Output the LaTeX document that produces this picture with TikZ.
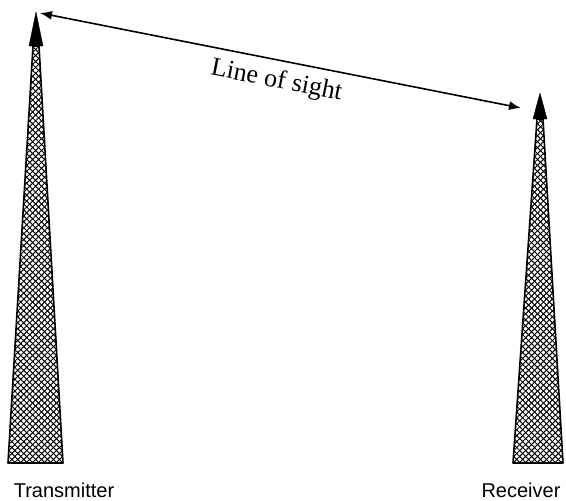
\documentclass[tikz,border=0pt]{standalone}
\usepackage{fontspec}
\setmainfont{Liberation Serif}
\setsansfont{Liberation Sans}
\usetikzlibrary{arrows.meta,patterns.meta}

\begin{document}
\begin{tikzpicture}[x=1pt, y=-1pt, >={Latex[length=12pt,width=9pt]},
    mast/.style={draw, line width=1.6pt, line join=round,
      pattern={Lines[angle=45,distance=4.2pt,line width=1pt]},
      postaction={pattern={Lines[angle=-45,distance=4.2pt,line width=1pt]}}},
    masthead/.style={fill=black, draw=black, line join=round},
    label/.style={font=\sffamily\fontsize{20}{24}\selectfont}]
  \useasboundingbox (0,0) rectangle (566,501);

  \coordinate (TxTop) at (36,12);
  \coordinate (RxTop) at (540,93);
  \coordinate (TxLink) at (40,13);
  \coordinate (RxLink) at (521,108);

  % transmitter mast
  \draw[mast] (33,46) -- (8,463) -- (63,463) -- (39,46) -- cycle;
  \filldraw[masthead] (TxTop) -- (29,46) -- (43,46) -- cycle;

  % receiver mast
  \draw[mast] (537,119) -- (513,463) -- (563,463) -- (543,119) -- cycle;
  \filldraw[masthead] (RxTop) -- (533,119) -- (547,119) -- cycle;

  \node[label] (tx) at (64,490) {Transmitter};
  \node[label] (rx) at (521,490) {Receiver};

  \draw[<->, line width=1.6pt] (TxLink) -- (RxLink)
    node[midway, below=5pt, sloped, font=\fontsize{26}{30}\selectfont] {Line of sight};
\end{tikzpicture}
\end{document}
